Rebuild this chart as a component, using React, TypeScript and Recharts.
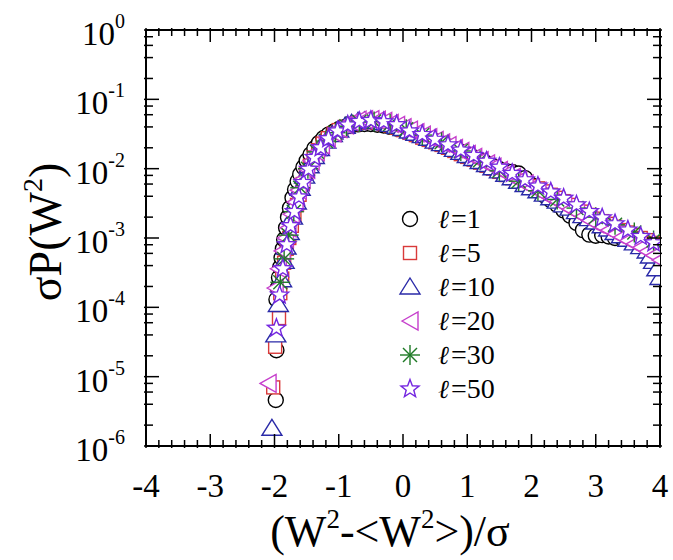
import { Scatter, ScatterChart, XAxis, YAxis } from "recharts";

const FONT = '"Liberation Serif", "Times New Roman", serif';
const ELL_FONT = '"DejaVu Serif", "Liberation Serif", serif';

// axis ticks
const X_MAJOR = [-4, -3, -2, -1, 0, 1, 2, 3, 4];
const Y_MAJOR = [1e-6, 1e-5, 1e-4, 1e-3, 1e-2, 1e-1, 1];
const Y_MINOR_STEPS = [2, 4, 6, 8];

// x positions shared by the right part of the dense curves
const xTail = [
  -0.9, -0.8, -0.7, -0.6, -0.5, -0.4, -0.3, -0.2, -0.1, 0, 0.1, 0.2, 0.3, 0.4, 0.5, 0.6, 0.7,
  0.8, 0.9, 1, 1.1, 1.2, 1.3, 1.4, 1.5, 1.6, 1.7, 1.8, 1.9, 2, 2.1, 2.2, 2.3, 2.4, 2.5, 2.6,
  2.7, 2.8, 2.9, 3, 3.1, 3.2, 3.3, 3.4, 3.5, 3.6, 3.7, 3.8, 3.9, 4,
];

// l = 1
const xHead1 = [
  -1.98, -1.97, -1.97, -1.95, -1.93, -1.91, -1.89, -1.87, -1.85, -1.82, -1.79, -1.76, -1.72,
  -1.68, -1.64, -1.6, -1.55, -1.5, -1.44, -1.38, -1.31, -1.24, -1.16, -1.08, -1.0,
];
const yHead1 = [
  4.6e-6, 2.4e-5, 1.3e-4, 1.9e-4, 2.7e-4, 3.8e-4, 5.2e-4, 7.0e-4, 9.5e-4, 1.4e-3, 2.0e-3, 2.7e-3,
  3.8e-3, 5.0e-3, 6.6e-3, 8.3e-3, 1.05e-2, 1.3e-2, 1.6e-2, 1.95e-2, 2.35e-2, 2.75e-2, 3.1e-2,
  3.4e-2, 3.7e-2,
];
const yTail1 = [
  4.0e-2, 4.2e-2, 4.35e-2, 4.4e-2, 4.4e-2, 4.3e-2, 4.2e-2, 4.0e-2, 3.8e-2, 3.6e-2, 3.35e-2, 3.1e-2,
  2.9e-2, 2.7e-2, 2.5e-2, 2.3e-2, 2.1e-2, 1.9e-2, 1.75e-2, 1.6e-2, 1.45e-2, 1.3e-2, 1.2e-2,
  1.08e-2, 9.8e-3, 9.2e-3, 9.0e-3, 8.5e-3, 7.3e-3, 5.8e-3, 4.8e-3, 4.1e-3, 3.5e-3, 3.0e-3, 2.5e-3,
  2.1e-3, 1.65e-3, 1.3e-3, 1.12e-3, 1.08e-3, 1.1e-3, 1.05e-3, 1.0e-3, 1.02e-3, 9.5e-4, 8.8e-4,
  8.2e-4, 7.6e-4, 7.2e-4, 7.0e-4,
];

// l = 5
const xHead5 = [
  -2.02, -1.99, -1.93, -1.91, -1.88, -1.85, -1.81, -1.77, -1.73, -1.69, -1.65, -1.61, -1.56,
  -1.51, -1.45, -1.39, -1.32, -1.25, -1.17, -1.08, -1.0,
];
const yHead5 = [
  7e-6, 2.7e-5, 7e-5, 1.6e-4, 2.6e-4, 4.4e-4, 7e-4, 1.0e-3, 1.5e-3, 2.1e-3, 3.0e-3, 4.2e-3, 6.0e-3,
  8.3e-3, 1.1e-2, 1.45e-2, 1.85e-2, 2.3e-2, 2.75e-2, 3.2e-2, 3.6e-2,
];
const yTail5 = [
  4.0e-2, 4.4e-2, 4.6e-2, 4.7e-2, 4.7e-2, 4.6e-2, 4.4e-2, 4.2e-2, 3.9e-2, 3.6e-2, 3.3e-2, 3.05e-2,
  2.8e-2, 2.6e-2, 2.4e-2, 2.2e-2, 2.0e-2, 1.8e-2, 1.62e-2, 1.48e-2, 1.35e-2, 1.22e-2, 1.1e-2,
  1.0e-2, 9.0e-3, 8.1e-3, 7.3e-3, 6.7e-3, 6.1e-3, 5.6e-3, 5.2e-3, 4.7e-3, 4.2e-3, 3.8e-3, 3.4e-3,
  3.0e-3, 2.65e-3, 2.4e-3, 2.15e-3, 1.9e-3, 1.75e-3, 1.6e-3, 1.45e-3, 1.3e-3, 1.2e-3, 1.1e-3,
  1.0e-3, 9.3e-4, 8.5e-4, 7.8e-4,
];

// l = 10
const xHead10 = [
  -2.04, -1.98, -1.94, -1.89, -1.85, -1.82, -1.77, -1.72, -1.66, -1.6, -1.53, -1.46, -1.38, -1.3,
  -1.2, -1.1, -1.0,
];
const yHead10 = [
  1.8e-6, 4.0e-5, 1.1e-4, 2.5e-4, 4.6e-4, 7.4e-4, 1.2e-3, 2.0e-3, 3.3e-3, 5.2e-3, 7.8e-3, 1.1e-2,
  1.5e-2, 1.95e-2, 2.5e-2, 3.1e-2, 3.6e-2,
];
const yTail10 = [
  4.1e-2, 4.5e-2, 4.8e-2, 4.9e-2, 4.9e-2, 4.8e-2, 4.6e-2, 4.35e-2, 4.1e-2, 3.8e-2, 3.5e-2, 3.25e-2,
  3.0e-2, 2.75e-2, 2.5e-2, 2.3e-2, 2.1e-2, 1.9e-2, 1.72e-2, 1.55e-2, 1.4e-2, 1.27e-2, 1.15e-2,
  1.03e-2, 9.3e-3, 8.3e-3, 7.4e-3, 6.6e-3, 5.9e-3, 5.3e-3, 4.8e-3, 4.3e-3, 3.8e-3, 3.4e-3, 3.0e-3,
  2.7e-3, 2.4e-3, 2.1e-3, 1.9e-3, 1.7e-3, 1.5e-3, 1.35e-3, 1.2e-3, 1.08e-3, 9.6e-4, 8.5e-4, 7.5e-4,
  6.5e-4, 4.6e-4, 2.7e-4,
];
const xEnd10 = [3.85, 3.95];
const yEnd10 = [5.5e-4, 3.6e-4];

// l = 20
const xHead20 = [
  -2.1, -1.99, -1.94, -1.88, -1.83, -1.79, -1.74, -1.68, -1.63, -1.57, -1.5, -1.43, -1.35, -1.27,
  -1.18, -1.09, -1.0,
];
const yHead20 = [
  8e-6, 1.9e-4, 3.6e-4, 6.5e-4, 1.0e-3, 1.4e-3, 2.2e-3, 3.3e-3, 4.9e-3, 7.0e-3, 9.8e-3, 1.3e-2,
  1.75e-2, 2.2e-2, 2.75e-2, 3.3e-2, 3.8e-2,
];
const yTail20 = [
  4.3e-2, 4.7e-2, 5.0e-2, 5.1e-2, 5.1e-2, 5.0e-2, 4.8e-2, 4.5e-2, 4.2e-2, 3.9e-2, 3.6e-2, 3.3e-2,
  3.05e-2, 2.8e-2, 2.55e-2, 2.35e-2, 2.15e-2, 1.95e-2, 1.77e-2, 1.6e-2, 1.45e-2, 1.3e-2, 1.17e-2,
  1.05e-2, 9.4e-3, 8.4e-3, 7.5e-3, 6.7e-3, 6.0e-3, 5.3e-3, 4.75e-3, 4.2e-3, 3.75e-3, 3.35e-3,
  2.95e-3, 2.6e-3, 2.3e-3, 2.05e-3, 1.8e-3, 1.6e-3, 1.45e-3, 1.3e-3, 1.15e-3, 1.03e-3, 9.2e-4,
  8.2e-4, 7.3e-4, 6.4e-4, 5.6e-4, 4.8e-4,
];

// l = 30
const x30 = [
  -1.91, -1.85, -1.78, -1.7, -1.6, -1.48, -1.34, -1.2, -1.05, -0.88, -0.68, -0.45, -0.2, 0.05, 0.3,
  0.6, 0.9, 1.2, 1.5, 1.8, 2.1, 2.4, 2.7, 3.0, 3.3, 3.6, 3.9,
];
const y30 = [
  2.3e-4, 5.0e-4, 1.1e-3, 2.4e-3, 5.3e-3, 1.0e-2, 1.75e-2, 2.5e-2, 3.3e-2, 4.1e-2, 4.7e-2, 4.8e-2,
  4.4e-2, 3.7e-2, 3.05e-2, 2.4e-2, 1.8e-2, 1.32e-2, 9.3e-3, 6.6e-3, 4.8e-3, 3.6e-3, 2.7e-3, 2.0e-3,
  1.55e-3, 1.2e-3, 9.2e-4,
];

// l = 50
const x50 = [
  -1.97, -1.92, -1.87, -1.81, -1.75, -1.69, -1.62, -1.55, -1.47, -1.38, -1.28, -1.16, -1.02, -0.86,
  -0.68, -0.5, -0.3, -0.1, 0.1, 0.3, 0.5, 0.7, 0.9, 1.1, 1.3, 1.5, 1.7, 1.9, 2.1, 2.3, 2.5, 2.7,
  2.9, 3.1, 3.3, 3.5, 3.7, 3.9,
];
const y50 = [
  5e-5, 1.5e-4, 3.6e-4, 8.0e-4, 1.5e-3, 2.4e-3, 3.9e-3, 6.3e-3, 9.8e-3, 1.45e-2, 2.0e-2, 2.7e-2,
  3.5e-2, 4.25e-2, 4.8e-2, 4.95e-2, 4.75e-2, 4.3e-2, 3.5e-2, 3.1e-2, 2.65e-2, 2.2e-2, 1.85e-2,
  1.55e-2, 1.28e-2, 1.05e-2, 8.5e-3, 6.9e-3, 5.6e-3, 4.6e-3, 3.75e-3, 3.0e-3, 2.4e-3, 1.95e-3,
  1.6e-3, 1.3e-3, 1.05e-3, 8.5e-4,
];

type Kind = "circle" | "square" | "up" | "left" | "asterisk" | "star";

const toPoints = (xs: number[], ys: number[]) => xs.map((x, i) => ({ x, y: ys[i] }));

const SERIES: { label: string; kind: Kind; color: string; data: { x: number; y: number }[] }[] = [
  { label: "1", kind: "circle", color: "#000000", data: toPoints([...xHead1, ...xTail], [...yHead1, ...yTail1]) },
  { label: "5", kind: "square", color: "#d93a3a", data: toPoints([...xHead5, ...xTail], [...yHead5, ...yTail5]) },
  {
    label: "10",
    kind: "up",
    color: "#2a2aa8",
    data: toPoints([...xHead10, ...xTail, ...xEnd10], [...yHead10, ...yTail10, ...yEnd10]),
  },
  { label: "20", kind: "left", color: "#c63fcc", data: toPoints([...xHead20, ...xTail], [...yHead20, ...yTail20]) },
  { label: "30", kind: "asterisk", color: "#1f7a26", data: toPoints(x30, y30) },
  { label: "50", kind: "star", color: "#7426e0", data: toPoints(x50, y50) },
];

const X_TICKS: number[] = [];
X_MAJOR.forEach((m, i) => {
  X_TICKS.push(m);
  if (i < X_MAJOR.length - 1) [1, 2, 3, 4].forEach((k) => X_TICKS.push(Math.round((m + k * 0.2) * 10) / 10));
});

const Y_TICKS: number[] = [];
Y_MAJOR.forEach((m, i) => {
  Y_TICKS.push(m);
  if (i < Y_MAJOR.length - 1) Y_MINOR_STEPS.forEach((s) => Y_TICKS.push(m * s));
});

const isMajorX = (v: number) => Math.abs(v - Math.round(v)) < 1e-6;
const isMajorY = (v: number) => Math.abs(Math.log10(v) - Math.round(Math.log10(v))) < 1e-6;

const AXIS = { stroke: "#000", strokeWidth: 2 };

function Marker({ kind, cx, cy, color }: { kind: Kind; cx: number; cy: number; color: string }) {
  const common = { fill: "#fff", stroke: color, strokeWidth: 1.4 };
  if (kind === "circle") return <circle cx={cx} cy={cy} r={7.5} {...common} />;
  if (kind === "square") return <rect x={cx - 6.5} y={cy - 6.5} width={13} height={13} {...common} />;
  if (kind === "up")
    return <polygon points={`${cx},${cy - 9} ${cx + 10},${cy + 7} ${cx - 10},${cy + 7}`} {...common} />;
  if (kind === "left")
    return <polygon points={`${cx - 8},${cy} ${cx + 8},${cy - 9} ${cx + 8},${cy + 9}`} {...common} />;
  if (kind === "asterisk") {
    const r = 10;
    const d = 7;
    return (
      <g stroke={color} strokeWidth={1.4}>
        <line x1={cx - r} y1={cy} x2={cx + r} y2={cy} />
        <line x1={cx} y1={cy - r} x2={cx} y2={cy + r} />
        <line x1={cx - d} y1={cy - d} x2={cx + d} y2={cy + d} />
        <line x1={cx - d} y1={cy + d} x2={cx + d} y2={cy - d} />
      </g>
    );
  }
  const pts: string[] = [];
  for (let i = 0; i < 10; i++) {
    const r = i % 2 === 0 ? 9.5 : 4;
    const a = -Math.PI / 2 + (i * Math.PI) / 5;
    pts.push(`${cx + r * Math.cos(a)},${cy + r * Math.sin(a)}`);
  }
  return <polygon points={pts.join(" ")} {...common} />;
}

function BottomTick(props: any) {
  const { x, y, payload } = props;
  const v = payload.value;
  const major = isMajorX(v);
  return (
    <g>
      <line x1={x} x2={x} y1={y} y2={y - (major ? 14 : 8)} stroke="#000" strokeWidth={1.5} />
      {major && (
        <text x={x} y={y + 49} textAnchor="middle" fontSize={33} fontFamily={FONT} fill="#000">
          {String(v)}
        </text>
      )}
    </g>
  );
}

function TopTick(props: any) {
  const { x, y, payload } = props;
  const major = isMajorX(payload.value);
  return <line x1={x} x2={x} y1={y} y2={y + (major ? 14 : 8)} stroke="#000" strokeWidth={1.5} />;
}

function LeftTick(props: any) {
  const { x, y, payload } = props;
  const v = payload.value;
  const major = isMajorY(v);
  return (
    <g>
      <line x1={x} x2={x + (major ? 15 : 9)} y1={y} y2={y} stroke="#000" strokeWidth={1.5} />
      {major && (
        <text x={x - 19} y={y + 15} textAnchor="end" fontSize={33} fontFamily={FONT} fill="#000">
          10
          <tspan dy={-17} fontSize={20}>
            {String(Math.round(Math.log10(v)))}
          </tspan>
        </text>
      )}
    </g>
  );
}

function RightTick(props: any) {
  const { x, y, payload } = props;
  const major = isMajorY(payload.value);
  return <line x1={x} x2={x - (major ? 15 : 9)} y1={y} y2={y} stroke="#000" strokeWidth={1.5} />;
}

const xTitle = () => (
  <text x={390} y={546} textAnchor="middle" fontSize={44} fontFamily={FONT} fill="#000">
    (W
    <tspan dy={-18} fontSize={27}>
      2
    </tspan>
    <tspan dy={18}>{"-<W"}</tspan>
    <tspan dy={-18} fontSize={27}>
      2
    </tspan>
    <tspan dy={18}>{">)/σ"}</tspan>
  </text>
);

const yTitle = () => (
  <text
    x={61}
    y={232}
    transform="rotate(-90, 61, 232)"
    textAnchor="middle"
    fontSize={46}
    fontFamily={FONT}
    fill="#000"
  >
    σP(W
    <tspan dy={-19} fontSize={28}>
      2
    </tspan>
    <tspan dy={19}>)</tspan>
  </text>
);

// legend drawn inside the chart svg, one row per series
const LEGEND_X = 410;
const LEGEND_TOP = 219;
const LEGEND_STEP = 34;

const legendBlock = () => (
  <g>
    {SERIES.map((s, i) => {
      const cy = LEGEND_TOP + i * LEGEND_STEP;
      return (
        <g key={s.label}>
          <Marker kind={s.kind} cx={LEGEND_X} cy={cy} color={s.color} />
          <text x={LEGEND_X + 28} y={cy + 9} fill="#000" fontSize={26} fontStyle="italic" fontFamily={ELL_FONT}>
            ℓ
          </text>
          <text x={LEGEND_X + 41} y={cy + 9} fill="#000" fontSize={28} fontFamily={FONT}>
            {"=" + s.label}
          </text>
        </g>
      );
    })}
  </g>
);

export default function App() {
  return (
    <div style={{ position: "absolute", left: 0, top: 0, background: "#fff" }}>
      <ScatterChart width={673} height={560} margin={{ top: 29, right: 12, bottom: 0, left: 0 }}>
        <XAxis
          xAxisId="b"
          type="number"
          dataKey="x"
          domain={[-4, 4]}
          allowDataOverflow
          ticks={X_TICKS}
          interval={0}
          tickSize={0}
          tickLine={false}
          axisLine={AXIS}
          tick={BottomTick}
          height={114}
          label={xTitle}
        />
        <XAxis
          xAxisId="t"
          orientation="top"
          type="number"
          dataKey="x"
          domain={[-4, 4]}
          allowDataOverflow
          ticks={X_TICKS}
          interval={0}
          tickSize={0}
          tickLine={false}
          axisLine={AXIS}
          tick={TopTick}
          height={1}
        />
        <YAxis
          yAxisId="l"
          type="number"
          dataKey="y"
          scale="log"
          domain={[1e-6, 1]}
          allowDataOverflow
          ticks={Y_TICKS}
          interval={0}
          tickSize={0}
          tickLine={false}
          axisLine={AXIS}
          tick={LeftTick}
          width={146}
          label={yTitle}
        />
        {SERIES.map((s) => (
          <Scatter
            key={s.label}
            name={s.label}
            data={s.data}
            xAxisId="b"
            yAxisId="l"
            isAnimationActive={false}
            shape={(p: any) => <Marker kind={s.kind} cx={p.cx} cy={p.cy} color={s.color} />}
          />
        ))}
        <YAxis
          yAxisId="r"
          orientation="right"
          type="number"
          dataKey="y"
          scale="log"
          domain={[1e-6, 1]}
          allowDataOverflow
          ticks={Y_TICKS}
          interval={0}
          tickSize={0}
          tickLine={false}
          axisLine={AXIS}
          tick={RightTick}
          width={1}
          label={legendBlock}
        />
      </ScatterChart>
    </div>
  );
}
